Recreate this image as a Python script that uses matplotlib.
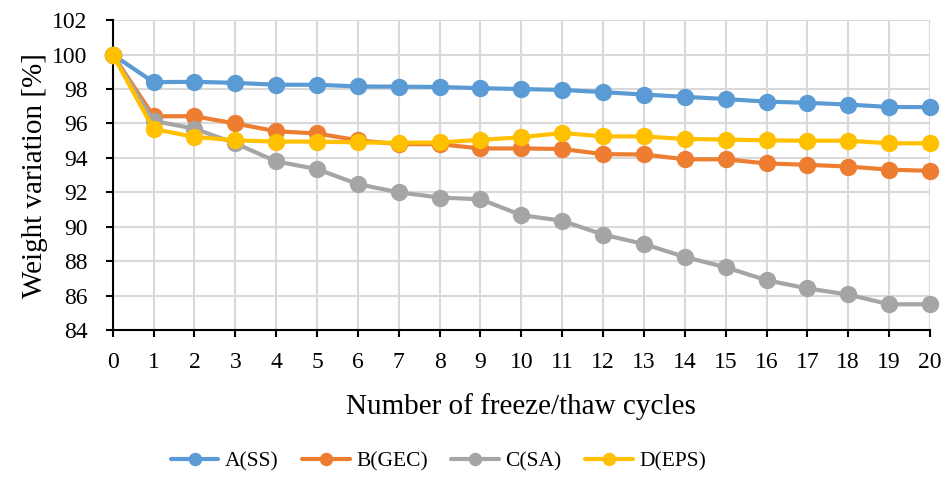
import numpy as np
import matplotlib.pyplot as plt

plt.rcParams['font.family'] = ['Liberation Serif', 'DejaVu Serif']

# BEGIN: DATA ################################################################
cycles = list(range(0, 21))

a_ss = [100, 98.4, 98.42, 98.36, 98.25, 98.25, 98.15, 98.14, 98.12, 98.05,
        98.0, 97.95, 97.82, 97.68, 97.55, 97.42, 97.27, 97.2, 97.1, 96.96, 96.95]
b_gec = [100, 96.42, 96.42, 96.0, 95.55, 95.42, 95.02, 94.8, 94.8, 94.55,
         94.55, 94.52, 94.22, 94.2, 93.92, 93.92, 93.68, 93.6, 93.5, 93.32, 93.25]
c_sa = [100, 96.15, 95.7, 94.85, 93.8, 93.35, 92.48, 92.0, 91.7, 91.6,
        90.68, 90.35, 89.55, 89.0, 88.25, 87.65, 86.9, 86.42, 86.07, 85.5, 85.5]
d_eps = [100, 95.68, 95.22, 95.02, 94.95, 94.95, 94.9, 94.88, 94.9, 95.05,
         95.2, 95.45, 95.25, 95.25, 95.1, 95.07, 95.02, 95.0, 95.0, 94.85, 94.85]

series_names = ['A(SS)', 'B(GEC)', 'C(SA)', 'D(EPS)']
series_colors = ['#5B9BD5', '#ED7D31', '#A5A5A5', '#FFC000']
# END:   DATA ################################################################

fig = plt.figure(figsize=(9.47, 4.92), dpi=100)
ax = fig.add_axes([0.119, 0.329, 0.863, 0.630])

for vals, name, col in zip([a_ss, b_gec, c_sa, d_eps], series_names, series_colors):
    ax.plot(cycles, vals, color=col, lw=3, marker='o', ms=11.5,
            label=name, solid_capstyle='round', clip_on=False, zorder=3)

ax.set_xlim(0, 20)
ax.set_ylim(84, 102)
ax.set_xticks(cycles)
ax.set_yticks(np.arange(84, 103, 2))
ax.grid(True, color='#D9D9D9', lw=1.5, zorder=0)
ax.set_axisbelow(True)
for s in ['top', 'right']:
    ax.spines[s].set_visible(False)
for s in ['left', 'bottom']:
    ax.spines[s].set_color('black')
    ax.spines[s].set_linewidth(1.5)
ax.tick_params(axis='both', direction='out', length=5, width=1.5,
               labelsize=17, colors='black')
ax.tick_params(axis='y', pad=13)
ax.tick_params(axis='x', pad=11)

ax.set_xlabel('Number of freeze/thaw cycles', fontsize=21, labelpad=14)
ax.set_ylabel('Weight variation [%]', fontsize=21, labelpad=3)

fig.legend(loc='center', bbox_to_anchor=(0.463, 0.063), ncol=4, frameon=False,
           fontsize=15.5, handlelength=2.2, columnspacing=1.1, handletextpad=0.3,
           markerscale=0.75)

fig.savefig('out.png', dpi=100)
